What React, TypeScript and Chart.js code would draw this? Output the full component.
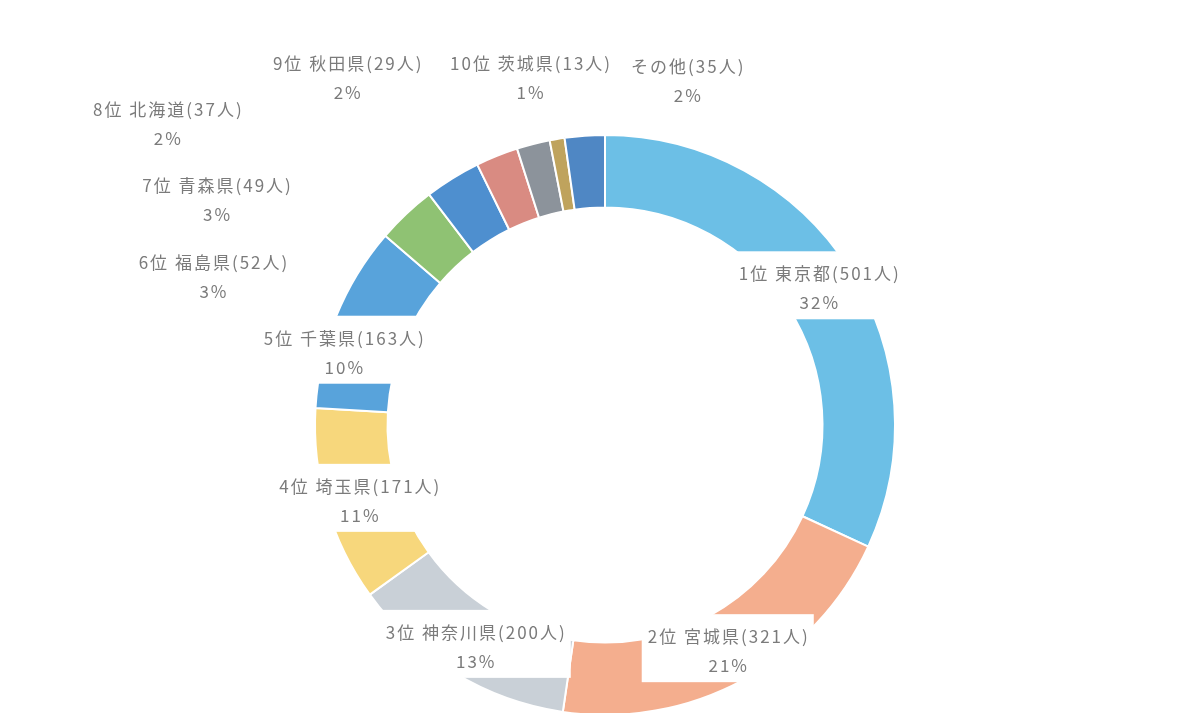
import React, { useEffect, useRef } from 'react';
import { Chart, registerables } from 'chart.js';

Chart.register(...registerables);

const ranks = ['1位', '2位', '3位', '4位', '5位', '6位', '7位', '8位', '9位', '10位', ''];
const prefectures = ['東京都', '宮城県', '神奈川県', '埼玉県', '千葉県', '福島県', '青森県', '北海道', '秋田県', '茨城県', 'その他'];
const visitors = [501, 321, 200, 171, 163, 52, 49, 37, 29, 13, 35];
const percentLabels = ['32%', '21%', '13%', '11%', '10%', '3%', '3%', '2%', '2%', '1%', '2%'];
const sliceColors = ['#6cbfe6', '#f4ae8e', '#c9d0d7', '#f7d77c', '#58a3db', '#8fc273', '#4e8fcf', '#d98b82', '#8c939b', '#bfa35d', '#4f87c4'];
// label displacement from each slice's centre point (layout only)
const labelOffsets: [number, number][] = [
  [0, 0], [2, 3], [2, 5], [-2, 5], [-26, 23], [-218, 37], [-255, -9], [-343, -65], [-195, -101], [-33, -97], [100, -91],
];

const labelPlugin = {
  id: 'sliceLabels',
  afterDatasetsDraw(chart: any) {
    const ctx = chart.ctx as CanvasRenderingContext2D;
    const meta = chart.getDatasetMeta(0);
    ctx.save();
    ctx.font = '17px "Noto Sans CJK JP"';
    (ctx as any).letterSpacing = '2px';
    ctx.textAlign = 'center';
    ctx.textBaseline = 'middle';
    meta.data.forEach((arc: any, i: number) => {
      const p = arc.getCenterPoint();
      const cx = p.x + labelOffsets[i][0];
      const cy = p.y + labelOffsets[i][1];
      const line1 = (ranks[i] ? ranks[i] + ' ' : '') + prefectures[i] + '(' + visitors[i] + '人)';
      const line2 = percentLabels[i];
      const w = Math.max(ctx.measureText(line1).width, ctx.measureText(line2).width);
      ctx.fillStyle = '#ffffff';
      ctx.fillRect(cx - w / 2 - 5, cy - 37, w + 10, 68);
      ctx.fillStyle = '#7b7b7b';
      ctx.fillText(line1, cx + 1, cy - 14.5);
      ctx.fillText(line2, cx + 1, cy + 14.5);
    });
    ctx.restore();
  },
};

export default function App() {
  const ref = useRef<HTMLCanvasElement | null>(null);
  useEffect(() => {
    if (!ref.current) return;
    const chart = new Chart(ref.current, {
      type: 'doughnut',
      data: {
        labels: prefectures,
        datasets: [
          {
            data: visitors,
            backgroundColor: sliceColors,
            borderColor: '#ffffff',
            borderWidth: 2,
          },
        ],
      },
      options: {
        responsive: false,
        animation: false,
        radius: 290,
        cutout: '75%',
        layout: { padding: { left: 18, top: 137, right: 0, bottom: 0 } },
        plugins: {
          legend: { display: false },
          tooltip: { enabled: false },
        },
      } as any,
      plugins: [labelPlugin],
    });
    return () => chart.destroy();
  }, []);
  return (
    <div style={{ position: 'fixed', left: 0, top: 0, width: 1192, height: 713, background: '#ffffff', overflow: 'hidden' }}>
      <canvas ref={ref} width={1192} height={713} style={{ display: 'block', width: 1192, height: 713 }} />
    </div>
  );
}
